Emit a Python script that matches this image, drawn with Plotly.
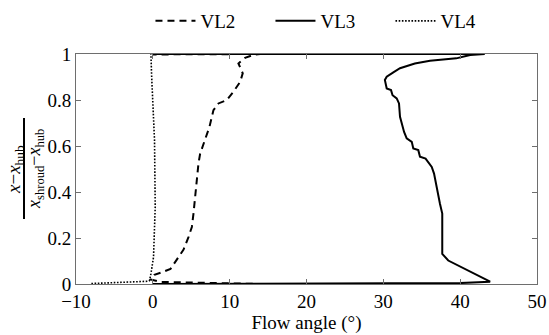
import plotly.graph_objects as go

# ---- data ----
vl2_angle = [13.0, 9.0, 5.0, 1.0, -0.3, 0.2, 1.2, 2.3, 2.9, 3.3, 4.0, 4.64, 5.08, 5.29,
             5.51, 5.64, 5.81, 5.94, 6.16, 6.81, 7.37, 7.89, 8.54, 9.63, 10.49, 11.37,
             11.7, 11.14, 12.0, 13.06, 13.97, 0.0]
vl2_span = [0.001, 0.004, 0.006, 0.009, 0.02, 0.04, 0.051, 0.066, 0.095, 0.117, 0.15,
            0.204, 0.248, 0.306, 0.378, 0.437, 0.48, 0.524, 0.567, 0.625, 0.683, 0.756,
            0.785, 0.80, 0.836, 0.879, 0.916, 0.959, 0.983, 0.996, 1.0, 0.998]

vl3_angle = [0.0, 20.0, 40.0, 43.9, 41.5, 38.45, 37.67, 37.67, 37.37, 36.94, 36.6, 36.3,
             35.5, 34.77, 34.55, 33.9, 33.7, 33.04, 32.7, 32.17, 32.04, 31.74, 31.2,
             31.0, 30.44, 30.2, 30.44, 31.3, 32.17, 34.1, 36.07, 39.5, 41.3, 43.2, 0.0]
vl3_span = [0.0, 0.001, 0.004, 0.010, 0.051, 0.102, 0.131, 0.306, 0.349, 0.422, 0.48,
            0.509, 0.545, 0.553, 0.582, 0.589, 0.618, 0.633, 0.661, 0.727, 0.785, 0.807,
            0.821, 0.843, 0.85, 0.887, 0.901, 0.92, 0.938, 0.959, 0.971, 0.981, 0.996,
            1.0, 1.0]

vl4_angle = [-8.0, -4.0, -0.56, -0.43, -0.25, 0.09, 0.31, 0.22, 0.0, -0.15, -0.25]
vl4_span = [0.002, 0.006, 0.012, 0.015, 0.044, 0.117, 0.335, 0.625, 0.77, 0.90, 1.0]

x_ticks = [-10, 0, 10, 20, 30, 40, 50]
y_ticks = [0, 0.2, 0.4, 0.6, 0.8, 1]

FONT = "Liberation Serif"
AX = "#6e6e6e"

fig = go.Figure()
fig.add_trace(go.Scatter(x=vl2_angle, y=vl2_span, mode="lines", name="VL2",
                         line=dict(color="black", width=2, dash="7px,5px")))
fig.add_trace(go.Scatter(x=vl3_angle, y=vl3_span, mode="lines", name="VL3",
                         line=dict(color="black", width=2)))
fig.add_trace(go.Scatter(x=vl4_angle, y=vl4_span, mode="lines", name="VL4",
                         line=dict(color="black", width=1.6, dash="1.6px,1.6px")))

L, R, T, B = 76, 12, 54, 51
W, H = 549, 335
pw = W - L - R
ph = H - T - B


def px_to_paper_x(px):
    return (px - L) / pw


def py_to_paper_y(py):
    return (H - B - py) / ph


fig.update_layout(
    width=W, height=H,
    margin=dict(l=L, r=R, t=T, b=B, autoexpand=False),
    paper_bgcolor="white", plot_bgcolor="white",
    font=dict(family=FONT, size=19, color="black"),
    showlegend=True,
    legend=dict(orientation="h", x=0.552, xanchor="center", y=1 - 2 / H, yanchor="top",
                yref="container", font=dict(size=19), entrywidth=65,
                entrywidthmode="pixels", bgcolor="rgba(0,0,0,0)",
                tracegroupgap=0, itemwidth=40),
    xaxis=dict(range=[-10, 50], tickvals=x_ticks, ticks="inside", ticklen=5,
               tickcolor=AX, showline=True, linecolor=AX, linewidth=1,
               mirror="allticks", showgrid=False, zeroline=False,
               tickfont=dict(size=19, family=FONT),
               title=dict(text="Flow angle (°)", font=dict(size=19, family=FONT),
                          standoff=2)),
    yaxis=dict(range=[0, 1], tickvals=y_ticks, ticks="inside", ticklen=5,
               tickcolor=AX, showline=True, linecolor=AX, linewidth=1,
               mirror="allticks", showgrid=False, zeroline=False,
               tickfont=dict(size=19, family=FONT)),
)

# y-axis label as a stacked fraction (rotated)
ymid = py_to_paper_y(169)
fig.add_annotation(text="<i>x</i>−<i>x</i><sub>hub</sub>", xref="paper", yref="paper",
                   x=px_to_paper_x(15), y=ymid, textangle=-90, showarrow=False,
                   xanchor="center", yanchor="middle", font=dict(size=19, family=FONT))
fig.add_annotation(text="<i>x</i><sub>shroud</sub>−<i>x</i><sub>hub</sub>", xref="paper",
                   yref="paper", x=px_to_paper_x(35), y=ymid, textangle=-90,
                   showarrow=False, xanchor="center", yanchor="middle",
                   font=dict(size=18, family=FONT))
fig.add_shape(type="line", xref="paper", yref="paper",
              x0=px_to_paper_x(24), x1=px_to_paper_x(24),
              y0=py_to_paper_y(118), y1=py_to_paper_y(219),
              line=dict(color="black", width=2))

fig.write_html("out.html", config={"displayModeBar": False},
               post_script="document.body.style.margin='0';document.body.style.padding='0';")
